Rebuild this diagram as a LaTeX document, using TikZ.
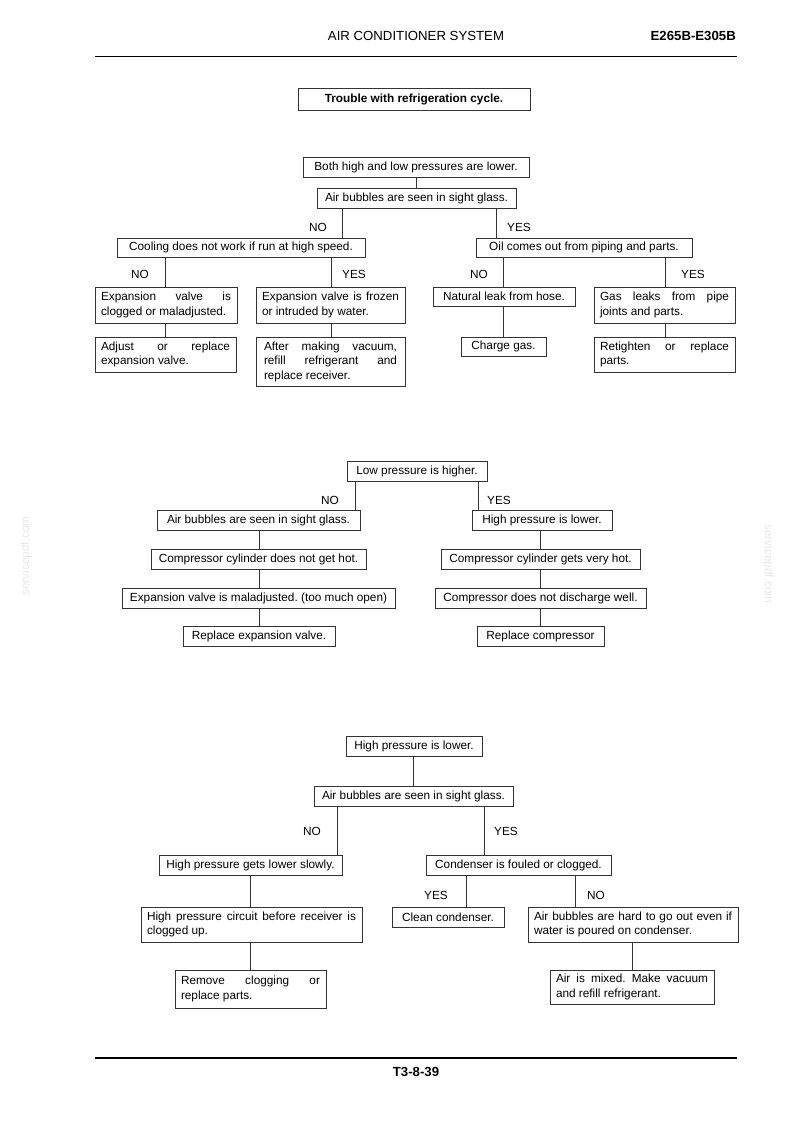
\documentclass[tikz,border=0pt]{standalone}
\usepackage{fontspec}
\setmainfont{Liberation Sans}
\hyphenpenalty=10000
\exhyphenpenalty=10000
\tolerance=9999
\frenchspacing
\newcommand\bxfont{\fontsize{11.8}{14.5}\selectfont\frenchspacing}
\newcommand\hdfont{\fontsize{13.2}{15}\selectfont}
\tikzset{
  box/.style={draw=black!80, line width=0.8pt, font=\bxfont, inner xsep=6pt, inner ysep=1pt, outer sep=0pt, anchor=north west},
  sbox/.style 2 args={box, minimum width=#1, minimum height=#2, align=center},
  jbox/.style 2 args={box, text width=#1, minimum height=#2, align=justify},
  conn/.style={draw=black!80, line width=0.8pt},
  lbl/.style={font=\bxfont, inner sep=0pt, anchor=center},
  wm/.style={font=\bxfont, text=black!9, inner sep=0pt}
}
\begin{document}
\begin{tikzpicture}[x=1pt,y=-1pt]
\fill[white] (0,0) rectangle (794,1123);
\useasboundingbox (0,0) rectangle (794,1123);

% header / footer
\node[font=\hdfont, inner sep=0pt] (hd) at (416,36) {AIR CONDITIONER SYSTEM};
\node[font=\hdfont\bfseries, inner sep=0pt, anchor=east] (code) at (736,36) {E265B-E305B};
\coordinate (hl1) at (95,56);
\coordinate (hl2) at (737,56);
\draw[line width=0.9pt] (hl1) -- (hl2);
\coordinate (fl1) at (95,1058);
\coordinate (fl2) at (737,1058);
\draw[line width=1.6pt] (fl1) -- (fl2);
\node[font=\hdfont\bfseries, inner sep=0pt] (pg) at (416,1072) {T3-8-39};

% watermarks
\node[wm, rotate=90] (wm1) at (26,556) {servicepdf.com};
\node[wm, rotate=-90] (wm2) at (768,564) {servicepdf.com};

% title
\node[sbox={232pt}{22pt}, font=\bxfont\bfseries] (T) at (298,88) {Trouble with refrigeration cycle.};

% ---------- section 1
\node[sbox={226pt}{20pt}] (A1) at (303,157) {Both high and low pressures are lower.};
\node[sbox={199pt}{20pt}] (A2) at (317,188) {Air bubbles are seen in sight glass.};
\node[sbox={248pt}{19pt}] (A3) at (117,238) {Cooling does not work if run at high speed.};
\node[sbox={216pt}{19pt}] (A4) at (476,238) {Oil comes out from piping and parts.};
\node[jbox={130pt}{36pt}] (A5) at (95,287) {Expansion valve is clogged or maladjusted.};
\node[jbox={137pt}{36pt}] (A6) at (256,287) {Expansion valve is frozen or intruded by water.};
\node[sbox={142pt}{19pt}] (A7) at (433,287) {Natural leak from hose.};
\node[jbox={129pt}{36pt}] (A8) at (594,287) {Gas leaks from pipe joints and parts.};
\node[jbox={129pt}{35pt}] (A9) at (95,337) {Adjust or replace expansion valve.};
\node[jbox={133pt}{49pt}, inner xsep=8pt] (A10) at (256,337) {After making vacuum, refill refrigerant and replace receiver.};
\node[sbox={85pt}{19pt}] (A11) at (461,337) {Charge gas.};
\node[jbox={129pt}{35pt}] (A12) at (594,337) {Retighten or replace parts.};

\draw[conn] (A1.south -| 416,0) -- (A2.north -| 416,0);
\draw[conn] (A2.south -| 342,0) -- (A3.north -| 342,0);
\draw[conn] (A2.south -| 496,0) -- (A4.north -| 496,0);
\draw[conn] (A3.south -| 165,0) -- (A5.north -| 165,0);
\draw[conn] (A3.south -| 331,0) -- (A6.north -| 331,0);
\draw[conn] (A4.south -| 503,0) -- (A7.north -| 503,0);
\draw[conn] (A4.south -| 665,0) -- (A8.north -| 665,0);
\draw[conn] (A5.south -| 165,0) -- (A9.north -| 165,0);
\draw[conn] (A6.south -| 331,0) -- (A10.north -| 331,0);
\draw[conn] (A7.south -| 503,0) -- (A11.north -| 503,0);
\draw[conn] (A8.south -| 665,0) -- (A12.north -| 665,0);

\node[lbl] (a2no) at (318,227) {NO};
\node[lbl] (a2yes) at (519,227) {YES};
\node[lbl] (a3no) at (140,274) {NO};
\node[lbl] (a3yes) at (354,274) {YES};
\node[lbl] (a4no) at (479,274) {NO};
\node[lbl] (a4yes) at (693,274) {YES};

% ---------- section 2
\node[sbox={140pt}{20pt}] (B1) at (347,461) {Low pressure is higher.};
\node[sbox={203pt}{20pt}] (B2) at (157,510) {Air bubbles are seen in sight glass.};
\node[sbox={140pt}{20pt}] (B3) at (472,510) {High pressure is lower.};
\node[sbox={215pt}{20pt}] (B4) at (151,549) {Compressor cylinder does not get hot.};
\node[sbox={273pt}{20pt}] (B5) at (122,588) {Expansion valve is maladjusted. (too much open)};
\node[sbox={152pt}{20pt}] (B6) at (183,626) {Replace expansion valve.};
\node[sbox={199pt}{20pt}] (B7) at (441,549) {Compressor cylinder gets very hot.};
\node[sbox={211pt}{20pt}] (B8) at (435,588) {Compressor does not discharge well.};
\node[sbox={127pt}{20pt}] (B9) at (477,626) {Replace compressor};

\draw[conn] (B1.south -| 355,0) -- (B2.north -| 355,0);
\draw[conn] (B1.south -| 478,0) -- (B3.north -| 478,0);
\draw[conn] (B2.south -| 259,0) -- (B4.north -| 259,0);
\draw[conn] (B4.south -| 259,0) -- (B5.north -| 259,0);
\draw[conn] (B5.south -| 259,0) -- (B6.north -| 259,0);
\draw[conn] (B3.south -| 540,0) -- (B7.north -| 540,0);
\draw[conn] (B7.south -| 540,0) -- (B8.north -| 540,0);
\draw[conn] (B8.south -| 540,0) -- (B9.north -| 540,0);

\node[lbl] (b1no) at (330,500) {NO};
\node[lbl] (b1yes) at (499,500) {YES};

% ---------- section 3
\node[sbox={136pt}{20pt}] (C1) at (346,736) {High pressure is lower.};
\node[sbox={199pt}{20pt}] (C2) at (314,786) {Air bubbles are seen in sight glass.};
\node[sbox={183pt}{20pt}] (C3) at (159,855) {High pressure gets lower slowly.};
\node[sbox={185pt}{20pt}] (C4) at (426,855) {Condenser is fouled or clogged.};
\node[jbox={209pt}{35pt}] (C5) at (141,907) {High pressure circuit before receiver is clogged up.};
\node[jbox={139pt}{38pt}] (C6) at (175,970) {Remove clogging or replace parts.};
\node[sbox={112pt}{20pt}] (C7) at (392,907) {Clean condenser.};
\node[jbox={198pt}{35pt}] (C8) at (528,907) {Air bubbles are hard to go out even if water is poured on condenser.};
\node[jbox={152pt}{34pt}] (C9) at (550,970) {Air is mixed. Make vacuum and refill refrigerant.};

\draw[conn] (C1.south -| 413,0) -- (C2.north -| 413,0);
\draw[conn] (C2.south -| 337,0) -- (C3.north -| 337,0);
\draw[conn] (C2.south -| 484,0) -- (C4.north -| 484,0);
\draw[conn] (C3.south -| 250,0) -- (C5.north -| 250,0);
\draw[conn] (C5.south -| 250,0) -- (C6.north -| 250,0);
\draw[conn] (C4.south -| 466,0) -- (C7.north -| 466,0);
\draw[conn] (C4.south -| 575,0) -- (C8.north -| 575,0);
\draw[conn] (C8.south -| 632,0) -- (C9.north -| 632,0);

\node[lbl] (c2no) at (312,831) {NO};
\node[lbl] (c2yes) at (506,831) {YES};
\node[lbl] (c4yes) at (436,895) {YES};
\node[lbl] (c4no) at (596,895) {NO};
\end{tikzpicture}
\end{document}
